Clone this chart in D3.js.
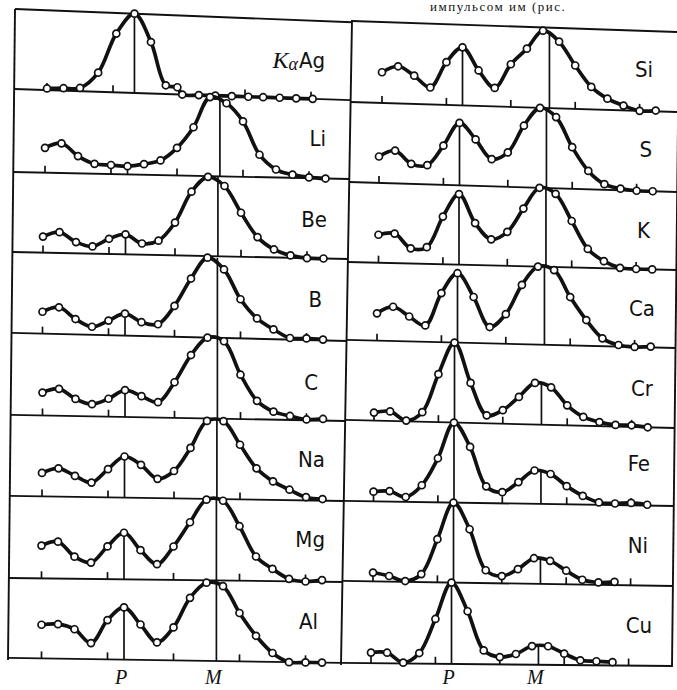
<!DOCTYPE html>
<html><head><meta charset="utf-8">
<script src="https://cdn.jsdelivr.net/npm/d3@7"></script>
<style>body{margin:0;background:#fff}svg{display:block}</style></head>
<body><svg id="c" width="677" height="690"></svg>
<script>
// ---------- data ----------
const leftLabels  = ["KαAg","Li","Be","B","C","Na","Mg","Al"];
const rightLabels = ["Si","S","K","Ca","Cr","Fe","Ni","Cu"];
const gridUnits18 = [0,1,2,3,4,5,6,7,8,9,10,11,12,13,14,15,16,17];
const gridUnits16 = [0,1,2,3,4,5,6,7,8,9,10,11,12,13,14,15];
const agUnits = [0,1,2,3.1,4.2,5.3,6.3,7.2,7.9,8.2,9.2,10.2,11.2,12.2,13.1,14.1,15.1,16.1];
const agVals = [2,3,4,24,74,100,65,11,9,0,0,0,0,0,0,0,0,0];
const liVals = [30,36,21,12,11,10,13,18,34,60,98,91,69,28,10,4,1,0];
const beVals = [20,26,14,9,19,25,14,18,41,80,99,88,55,25,10,3,0,0];
const bVals  = [27,33,19,10,18,27,17,15,38,72,98,84,48,25,12,2,2,1];
const cVals  = [28,33,21,15,22,33,26,19,44,78,100,96,55,23,10,5,1,2];
const naVals = [29,35,26,18,35,51,41,24,34,63,97,97,68,39,23,13,4,2];
const mgVals = [40,45,27,20,40,57,36,19,41,71,99,98,67,30,15,3,0,2];
const alVals = [42,43,37,20,49,65,44,22,41,78,97,93,60,32,11,0,0,0];
const siVals = [38,46,35,21,53,72,44,23,53,73,96,83,54,28,14,6,0,1];
const sVals  = [33,41,25,24,49,78,58,34,43,77,100,89,52,23,7,2,0,0];
const kVals  = [35,37,19,21,60,89,53,33,43,73,100,93,59,24,9,1,0,0];
const caVals = [35,44,32,21,63,89,59,21,38,76,100,96,62,33,10,2,0,1];
const crVals = [10,12,1,12,60,100,50,10,17,34,52,47,25,11,5,2,2,0];
const feVals = [12,13,6,21,55,100,70,21,14,27,42,38,23,11,3,2,3,1];
const niVals = [11,7,1,10,54,100,67,16,9,18,32,29,17,6,3,4];
const cuVals = [13,13,1,13,55,100,65,17,9,13,23,23,14,6,5,4];
const tickUnits = [0,4,8,12,16];
const pUnit = 5, mUnitLeft = 10.6, mUnitRight = 10.4;
const axisLabels = ["P","M"];
const headerText = "импульсом  им  (рис.";

// ---------- layout (scan geometry) ----------
const leftBounds  = [[9,22],[89,100],[172,179],[252,259],[333,341],[415,421],[496,501],[578,582],[658,663]];
const rightBounds = [[21,32],[102,112],[182,192],[262,270],[340,348],[420,428],[501,506],[581,586],[663,666]];
const leftShift  = [5.5,3.5,1.5,1,1,0.5,0,0];
const rightShift = [11,8,7.5,6,3,2.5,2,0];
const leftEdge = [[15,9],[8,660]], divider = [[352,20],[341,665]], rightEdge = [[679,30],[672,667]];
const leftLabelPos  = [[325,68],[326,146],[327,227],[322,307],[318,390],[325,467],[325,547],[318,629]];
const rightLabelPos = [[653,77],[652,157],[650,238],[655,316],[653,396],[650,471],[648,553],[652,633]];

const leftPanels = [
  {u:agUnits, v:agVals, peakOnly:true},
  {u:gridUnits18, v:liVals},{u:gridUnits18, v:beVals},{u:gridUnits18, v:bVals},
  {u:gridUnits18, v:cVals},{u:gridUnits18, v:naVals},{u:gridUnits18, v:mgVals},{u:gridUnits18, v:alVals}];
const rightPanels = [
  {u:gridUnits18, v:siVals},{u:gridUnits18, v:sVals},{u:gridUnits18, v:kVals},{u:gridUnits18, v:caVals},
  {u:gridUnits18, v:crVals},{u:gridUnits18, v:feVals},{u:gridUnits16, v:niVals},{u:gridUnits16, v:cuVals}];

const svg = d3.select("#c");
const g = svg.append("g");
const ink = "#111";

const xLeft  = d3.scaleLinear().domain([0,16]).range([41.5, 41.5+16.5*16]);
const xRight = d3.scaleLinear().domain([0,16]).range([371, 371+16.1*16]);
const yFrac  = d3.scaleLinear().domain([0,100]).range([0,1]);

function edgeX(e, y){ return e[0][0] + (e[1][0]-e[0][0])*(y-e[0][1])/(e[1][1]-e[0][1]); }
function lineFn(b, xa, xb){ return x => b[0] + (b[1]-b[0])*(x-xa)/(xb-xa); }

// top line of running text (cut off in the scan)
g.append("text").attr("x",430).attr("y",11).attr("font-family","'Liberation Serif',serif")
  .attr("font-size",13).attr("fill",ink).attr("letter-spacing",1.5).text(headerText);

// frame edges
[[leftEdge,9,660],[divider,20,665],[rightEdge,30,667]].forEach(([e,y1,y2])=>{
  g.append("line").attr("x1",edgeX(e,y1)).attr("y1",y1).attr("x2",edgeX(e,y2)).attr("y2",y2)
   .attr("stroke",ink).attr("stroke-width",1.9);
});

function drawBounds(bounds, xa, xb, e1, e2){
  bounds.forEach(b=>{
    const f = lineFn(b, xa, xb);
    const x1 = edgeX(e1, b[0]), x2 = edgeX(e2, b[1]);
    g.append("line").attr("x1",x1).attr("y1",f(x1)).attr("x2",x2).attr("y2",f(x2))
     .attr("stroke",ink).attr("stroke-width",1.9);
  });
}
drawBounds(leftBounds, 15, 347, leftEdge, divider);
drawBounds(rightBounds, 350, 677, divider, rightEdge);

function interp(us, vs, u){
  for(let i=0;i<us.length-1;i++){
    if(u>=us[i] && u<=us[i+1]) return Math.max(vs[i], vs[i+1]);
  }
  return 0;
}

function drawPanel(p, r, bounds, xa, xb, xs, shift, mUnit){
  const base = lineFn(bounds[r+1], xa, xb), top = lineFn(bounds[r], xa, xb);
  const X = u => xs(u) + shift;
  const Y = (x, v) => base(x) + (top(x)-base(x))*yFrac(v);
  const pg = g.append("g");
  tickUnits.forEach(t=>{
    const x = X(t);
    pg.append("line").attr("x1",x).attr("x2",x).attr("y1",base(x)).attr("y2",base(x)-7)
      .attr("stroke",ink).attr("stroke-width",1.7);
  });
  let refs;
  if(p.peakOnly){
    const i = p.v.indexOf(d3.max(p.v));
    refs = [[p.u[i], p.v[i]]];
  } else {
    refs = [[pUnit, interp(p.u,p.v,pUnit)],[mUnit, interp(p.u,p.v,mUnit)]];
  }
  refs.forEach(([u,v])=>{
    const x = X(u);
    pg.append("line").attr("x1",x).attr("x2",x).attr("y1",base(x)).attr("y2",Y(x,v))
      .attr("stroke",ink).attr("stroke-width",1.7);
  });
  const pts = p.u.map((u,i)=>{ const x = X(u); return [x, Y(x,p.v[i])]; });
  pg.append("path").attr("d", d3.line().curve(d3.curveCatmullRom.alpha(0.5))(pts))
    .attr("fill","none").attr("stroke",ink).attr("stroke-width",3.7).attr("stroke-linejoin","round");
  pg.selectAll("circle").data(pts).join("circle")
    .attr("cx",d=>d[0]).attr("cy",d=>d[1]).attr("r",3.5)
    .attr("fill","#fff").attr("stroke",ink).attr("stroke-width",1.7);
}

leftPanels.forEach((p,r)=>drawPanel(p, r, leftBounds, 15, 347, xLeft, leftShift[r], mUnitLeft));
rightPanels.forEach((p,r)=>drawPanel(p, r, rightBounds, 350, 677, xRight, rightShift[r], mUnitRight));

// labels
const labelFont = "'DejaVu Sans Condensed','Liberation Sans Narrow','Roboto Condensed',sans-serif";
leftLabels.forEach((lab,i)=>{
  const t = g.append("text").attr("x",leftLabelPos[i][0]).attr("y",leftLabelPos[i][1])
    .attr("text-anchor","end").attr("font-family",labelFont).attr("font-stretch","condensed")
    .attr("font-size",22).attr("fill",ink);
  if(lab.startsWith("K")){
    t.append("tspan").attr("font-style","italic").attr("font-family","'Liberation Serif',serif").attr("font-size",24).text("K");
    t.append("tspan").attr("font-style","italic").attr("font-family","'Liberation Serif',serif").attr("font-size",18).attr("dy",2).text("α");
    t.append("tspan").attr("dy",-2).attr("dx",1).text("Ag");
  } else t.text(lab);
});
rightLabels.forEach((lab,i)=>{
  g.append("text").attr("x",rightLabelPos[i][0]).attr("y",rightLabelPos[i][1])
    .attr("text-anchor","end").attr("font-family",labelFont).attr("font-stretch","condensed")
    .attr("font-size",22).attr("fill",ink).text(lab);
});

// P / M axis labels under each column
[[xLeft, mUnitLeft],[xRight, mUnitRight]].forEach(([xs,mu])=>{
  [[pUnit,axisLabels[0]],[mu,axisLabels[1]]].forEach(([u,lab])=>{
    g.append("text").attr("x",xs(u)-3).attr("y",684).attr("text-anchor","middle")
      .attr("font-family","'Liberation Serif',serif").attr("font-style","italic")
      .attr("font-size",20).attr("fill",ink).text(lab);
  });
});
</script></body></html>
